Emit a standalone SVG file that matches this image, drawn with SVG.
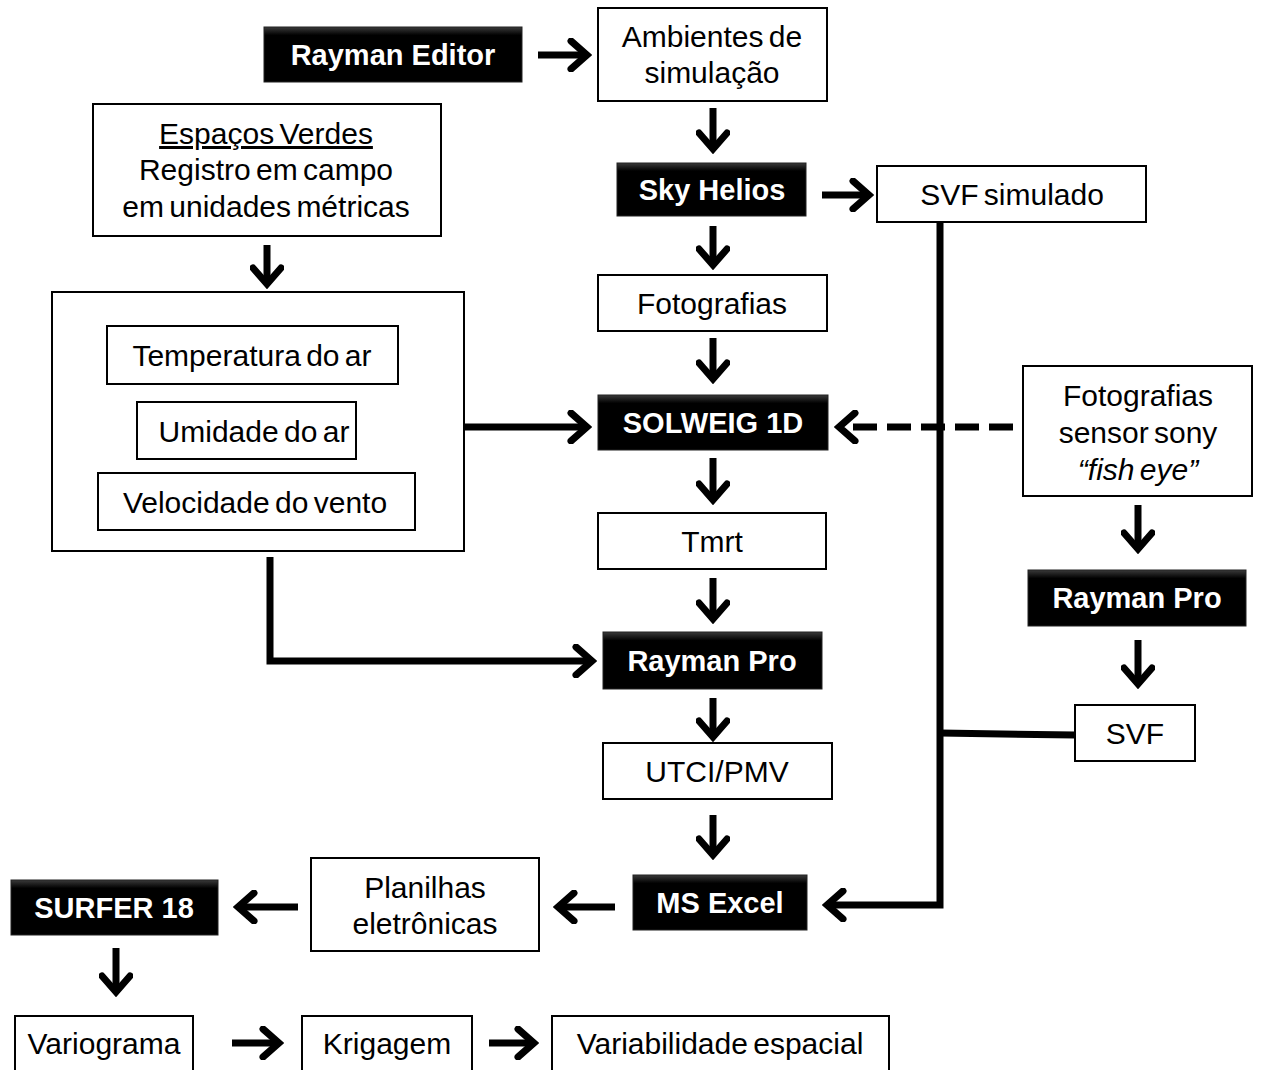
<svg xmlns="http://www.w3.org/2000/svg" width="1261" height="1070" viewBox="0 0 1261 1070">
<style>
.box{fill:#fff;stroke:#000;stroke-width:2}
.bbox{fill:url(#bg);stroke:#222;stroke-width:1}
.t{font-family:"Liberation Sans",Arial,sans-serif;font-size:30px;word-spacing:-3px;fill:#000;text-anchor:middle}
.bt{font-family:"Liberation Sans",Arial,sans-serif;font-size:29px;font-weight:bold;fill:#fff;text-anchor:middle}
.c{fill:none;stroke:#000;stroke-width:7}
</style>
<defs>
<linearGradient id="bg" x1="0" y1="0" x2="0" y2="1">
<stop offset="0" stop-color="#3a3a3a"/>
<stop offset="0.15" stop-color="#000"/>
<stop offset="1" stop-color="#000"/>
</linearGradient>
<marker id="ah" markerUnits="userSpaceOnUse" viewBox="0 0 26 34" markerWidth="26" markerHeight="34" refX="22" refY="17" orient="auto">
<path d="M5,3 L21,17 L5,31" fill="none" stroke="#000" stroke-width="7" stroke-linecap="round" stroke-linejoin="miter"/>
</marker>
</defs>

<g id="connectors">
<path class="c" d="M538,55 H588" marker-end="url(#ah)"/>
<path class="c" d="M713,108 V150" marker-end="url(#ah)"/>
<path class="c" d="M822,195 H870" marker-end="url(#ah)"/>
<path class="c" d="M713,226 V266" marker-end="url(#ah)"/>
<path class="c" d="M713,338 V380" marker-end="url(#ah)"/>
<path class="c" d="M267,245 V285" marker-end="url(#ah)"/>
<path class="c" d="M464,427 H588" marker-end="url(#ah)"/>
<path class="c" d="M1013,427 H838" stroke-dasharray="24,10" marker-end="url(#ah)"/>
<path class="c" d="M713,458 V501" marker-end="url(#ah)"/>
<path class="c" d="M713,578 V620" marker-end="url(#ah)"/>
<path class="c" d="M270,557 V661 H593" marker-end="url(#ah)"/>
<path class="c" d="M713,698 V738" marker-end="url(#ah)"/>
<path class="c" d="M713,815 V856" marker-end="url(#ah)"/>
<path class="c" d="M940,222 V905 H826" marker-end="url(#ah)"/>
<path class="c" d="M1075,735 L940,733"/>
<path class="c" d="M1138,505 V550" marker-end="url(#ah)"/>
<path class="c" d="M1138,640 V685" marker-end="url(#ah)"/>
<path class="c" d="M615,907 H557" marker-end="url(#ah)"/>
<path class="c" d="M298,907 H237" marker-end="url(#ah)"/>
<path class="c" d="M116,948 V993" marker-end="url(#ah)"/>
<path class="c" d="M232,1043 H280" marker-end="url(#ah)"/>
<path class="c" d="M489,1043 H535" marker-end="url(#ah)"/>
</g>

<g id="rayman-editor"><rect class="bbox" x="264" y="27" width="258" height="55"/><text class="bt" x="393" y="65">Rayman Editor</text></g>
<g id="ambientes"><rect class="box" x="598" y="8" width="229" height="93"/><text class="t" x="712" y="47">Ambientes de</text><text class="t" x="712" y="83">simulação</text></g>
<g id="sky-helios"><rect class="bbox" x="617" y="163" width="189" height="53"/><text class="bt" x="712" y="200">Sky Helios</text></g>
<g id="svf-simulado"><rect class="box" x="877" y="166" width="269" height="56"/><text class="t" x="1012" y="205">SVF simulado</text></g>
<g id="fotografias"><rect class="box" x="598" y="275" width="229" height="56"/><text class="t" x="712" y="314">Fotografias</text></g>
<g id="espacos-verdes"><rect class="box" x="93" y="104" width="348" height="132"/>
<text class="t" x="266" y="144" text-decoration="underline">Espaços Verdes</text>
<text class="t" x="266" y="180">Registro em campo</text><text class="t" x="266" y="217">em unidades métricas</text></g>
<g id="variaveis"><rect class="box" x="52" y="292" width="412" height="259"/></g>
<g id="temperatura"><rect class="box" x="107" y="326" width="291" height="58"/><text class="t" x="252" y="366">Temperatura do ar</text></g>
<g id="umidade"><rect class="box" x="137" y="402" width="219" height="57"/><text class="t" x="254" y="442">Umidade do ar</text></g>
<g id="velocidade"><rect class="box" x="98" y="473" width="317" height="57"/><text class="t" x="255" y="513">Velocidade do vento</text></g>
<g id="solweig"><rect class="bbox" x="598" y="395" width="230" height="55"/><text class="bt" x="713" y="433">SOLWEIG 1D</text></g>
<g id="fotografias-sony"><rect class="box" x="1023" y="366" width="229" height="130"/>
<text class="t" x="1138" y="406">Fotografias</text><text class="t" x="1138" y="443">sensor sony</text><text class="t" x="1138" y="480" font-style="italic">“fish eye”</text></g>
<g id="tmrt"><rect class="box" x="598" y="513" width="228" height="56"/><text class="t" x="712" y="552">Tmrt</text></g>
<g id="rayman-pro-right"><rect class="bbox" x="1028" y="570" width="218" height="56"/><text class="bt" x="1137" y="608">Rayman Pro</text></g>
<g id="rayman-pro"><rect class="bbox" x="603" y="632" width="219" height="57"/><text class="bt" x="712" y="671">Rayman Pro</text></g>
<g id="svf"><rect class="box" x="1075" y="705" width="120" height="56"/><text class="t" x="1135" y="744">SVF</text></g>
<g id="utci"><rect class="box" x="603" y="743" width="229" height="56"/><text class="t" x="717" y="782">UTCI/PMV</text></g>
<g id="ms-excel"><rect class="bbox" x="633" y="875" width="174" height="55"/><text class="bt" x="720" y="913">MS Excel</text></g>
<g id="planilhas"><rect class="box" x="311" y="858" width="228" height="93"/><text class="t" x="425" y="898">Planilhas</text><text class="t" x="425" y="934">eletrônicas</text></g>
<g id="surfer"><rect class="bbox" x="11" y="880" width="207" height="55"/><text class="bt" x="114" y="918">SURFER 18</text></g>
<g id="variograma"><rect class="box" x="15" y="1016" width="178" height="60"/><text class="t" x="104" y="1054">Variograma</text></g>
<g id="krigagem"><rect class="box" x="302" y="1016" width="170" height="60"/><text class="t" x="387" y="1054">Krigagem</text></g>
<g id="variabilidade"><rect class="box" x="552" y="1016" width="337" height="60"/><text class="t" x="720" y="1054">Variabilidade espacial</text></g>
</svg>
